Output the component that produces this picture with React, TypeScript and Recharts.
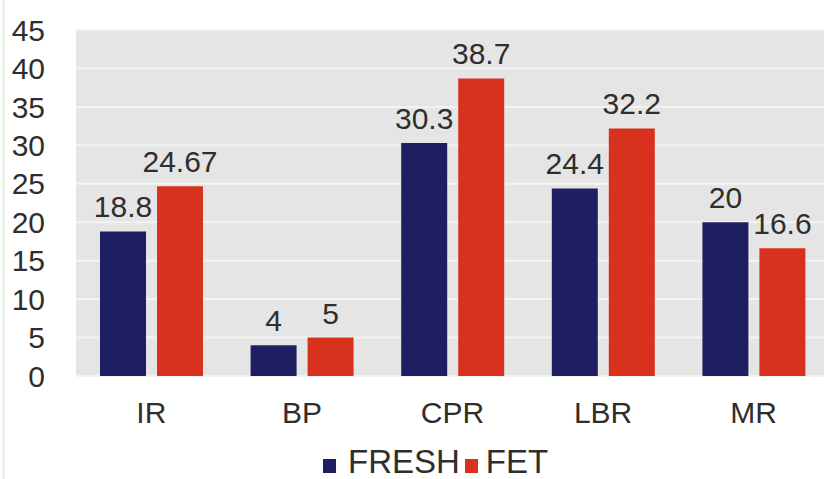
import React from 'react';
import { BarChart, Bar, XAxis, YAxis, CartesianGrid, Legend, LabelList } from 'recharts';

const categories = ['IR', 'BP', 'CPR', 'LBR', 'MR'];
const freshValues = [18.8, 4, 30.3, 24.4, 20];
const fetValues = [24.67, 5, 38.7, 32.2, 16.6];
const yTicks = [0, 5, 10, 15, 20, 25, 30, 35, 40, 45];

const series = [
  { key: 'fresh', name: 'FRESH', color: '#1e1f63' },
  { key: 'fet', name: 'FET', color: '#d8321f' },
];

const data = categories.map((name, i) => ({
  name,
  fresh: freshValues[i],
  fet: fetValues[i],
}));

const font = '"Liberation Sans", Arial, sans-serif';
const textColor = '#2e2e2e';

const renderLegend = () => (
  <div
    style={{
      display: 'flex',
      alignItems: 'flex-start',
      height: 46,
      paddingTop: 10,
      paddingLeft: 323,
      boxSizing: 'border-box',
      fontFamily: font,
      fontSize: 33,
      lineHeight: '38px',
      color: textColor,
    }}
  >
    {series.map((s, i) => (
      <span key={s.key} style={{ display: 'flex', alignItems: 'flex-start', marginRight: i === 0 ? 5 : 0 }}>
        <span
          style={{
            width: 13,
            height: 14,
            background: s.color,
            display: 'inline-block',
            marginTop: 16,
            marginRight: i === 0 ? 12 : 8,
          }}
        />
        {s.name}
      </span>
    ))}
  </div>
);

export default function App() {
  document.body.style.margin = '0';
  return (
    <div style={{ position: 'relative', width: 824, height: 479, background: '#fff', overflow: 'hidden', fontFamily: font }}>
      <BarChart
        width={829}
        height={479}
        data={data}
        margin={{ top: 30, right: 0, left: 0, bottom: 0 }}
        barSize={46}
        barGap={11}
      >
        <CartesianGrid vertical={false} stroke="#f3f3f3" strokeWidth={2} fill="#e5e5e5" />
        <XAxis
          dataKey="name"
          axisLine={false}
          tickLine={false}
          height={57}
          tickMargin={20}
          tick={{ fontSize: 30, fill: textColor, fontFamily: font }}
        />
        <YAxis
          domain={[0, 45]}
          ticks={yTicks}
          axisLine={false}
          tickLine={false}
          width={76}
          tickMargin={25}
          interval={0}
          tick={{ fontSize: 30, fill: textColor, fontFamily: font }}
        />
        <Legend verticalAlign="bottom" height={46} content={renderLegend} />
        {series.map((s) => (
          <Bar key={s.key} dataKey={s.key} name={s.name} fill={s.color} isAnimationActive={false}>
            <LabelList dataKey={s.key} position="top" offset={14} style={{ fontSize: 30, fill: textColor, fontFamily: font }} />
          </Bar>
        ))}
      </BarChart>
      <div style={{ position: 'absolute', left: 2, top: 0, width: 3, height: 479, background: '#eaf4ea' }} />
    </div>
  );
}
